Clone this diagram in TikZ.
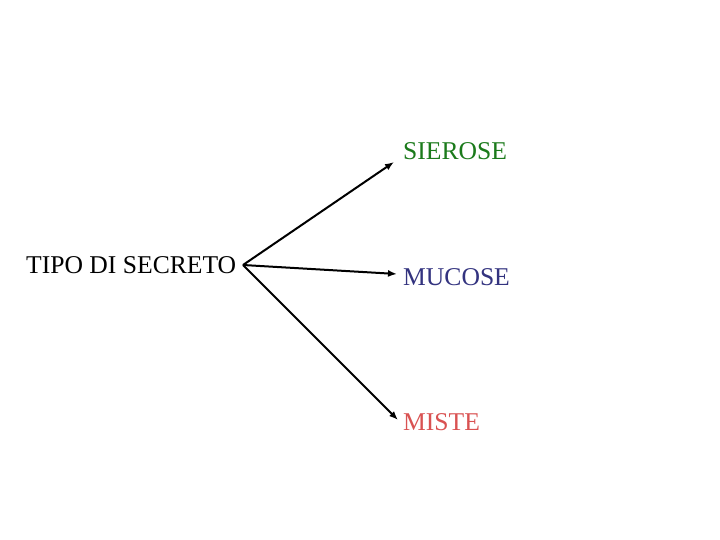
\documentclass[tikz,border=0pt]{standalone}
\usepackage{fontspec}
\setmainfont{Liberation Serif}
\usetikzlibrary{arrows.meta}
\definecolor{cgreen}{HTML}{1B7A1B}
\definecolor{cblue}{HTML}{33337F}
\definecolor{cred}{HTML}{D95252}
\begin{document}
\begin{tikzpicture}[x=1pt,y=-1pt,
  lbl/.style={anchor=base west,inner sep=0pt,font=\fontsize{25.6}{28}\selectfont},
  conn/.style={line width=2pt,-{Latex[length=9pt,width=7pt]}}]
\useasboundingbox (0,0) rectangle (720,540);
\node[lbl] (tipo) at (26,273) {TIPO DI SECRETO};
\node[lbl,text=cgreen] (sier) at (403,160) {SIEROSE};
\node[lbl,text=cblue] (muc) at (403,285) {MUCOSE};
\node[lbl,text=cred] (mist) at (403,430) {MISTE};
\coordinate (s) at (243,265);
\coordinate (e1) at (394,162);
\coordinate (e2) at (397,274);
\coordinate (e3) at (398,420);
\draw[conn] (s) -- (e1);
\draw[conn] (s) -- (e2);
\draw[conn] (s) -- (e3);
\end{tikzpicture}
\end{document}
